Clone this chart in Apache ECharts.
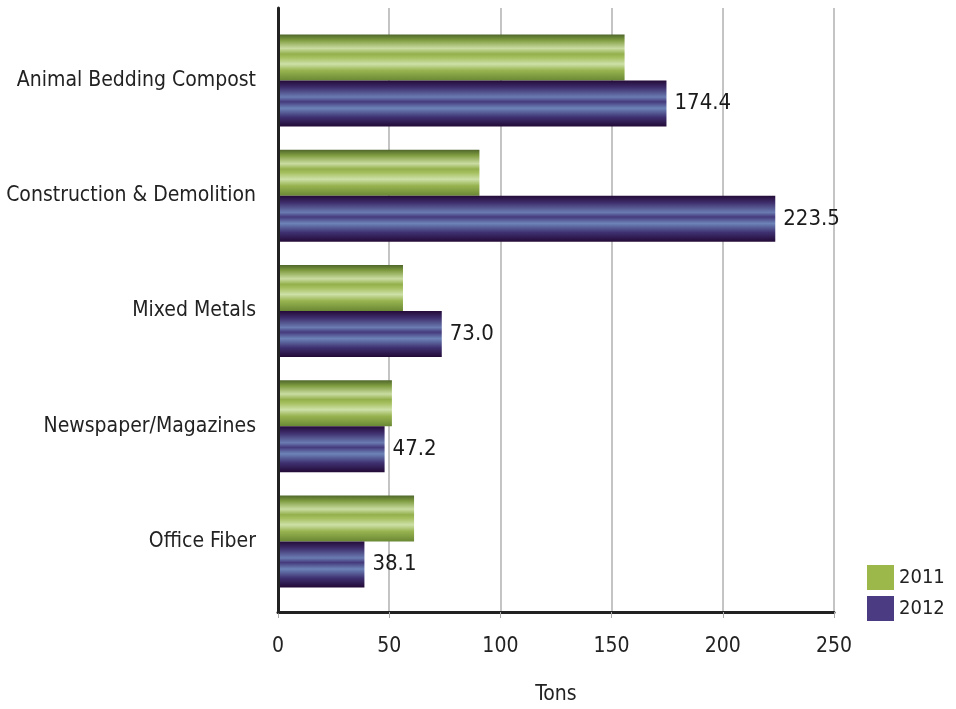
<!DOCTYPE html>
<html>
<head>
<meta charset="utf-8">
<script src="https://cdn.jsdelivr.net/npm/echarts@6/dist/echarts.min.js"></script>
<style>
  html, body { margin: 0; padding: 0; background: #fff; }
  #chart { width: 956px; height: 709px; }
</style>
</head>
<body>
<div id="chart"></div>
<script>
var categories = ['Animal Bedding Compost', 'Construction & Demolition', 'Mixed Metals', 'Newspaper/Magazines', 'Office Fiber'];
var tons2011 = [155.5, 90.0, 55.5, 50.5, 60.5];
var tons2012 = [174.4, 223.5, 73.0, 47.2, 38.1];
var xTicks = [0, 50, 100, 150, 200, 250];

var font = '"DejaVu Sans Condensed", "Liberation Sans Narrow", sans-serif';

// stripy look of the bars
var greenFill = new echarts.graphic.LinearGradient(0, 0, 0, 1, [
  { offset: 0, color: '#4f662b' },
  { offset: 0.12, color: '#7f9c40' },
  { offset: 0.3, color: '#cadca2' },
  { offset: 0.42, color: '#93b04c' },
  { offset: 0.5, color: '#a6c060' },
  { offset: 0.64, color: '#cde0a8' },
  { offset: 0.78, color: '#98b450' },
  { offset: 1, color: '#6a8834' }
]);
var purpleFill = new echarts.graphic.LinearGradient(0, 0, 0, 1, [
  { offset: 0, color: '#240b38' },
  { offset: 0.15, color: '#3e2e6c' },
  { offset: 0.36, color: '#6a7cb2' },
  { offset: 0.46, color: '#453a7c' },
  { offset: 0.6, color: '#6d84b8' },
  { offset: 0.8, color: '#3e3070' },
  { offset: 1, color: '#230a36' }
]);

var chart = echarts.init(document.getElementById('chart'));
chart.setOption({
  animation: false,
  textStyle: { fontFamily: font },
  legend: {
    orient: 'vertical',
    left: 862,
    top: 560,
    itemWidth: 27,
    itemHeight: 25,
    itemGap: 6,
    icon: 'rect',
    textStyle: { fontSize: 20, color: '#222', fontFamily: font },
    data: [
      { name: '2011', itemStyle: { color: '#9cb84a' } },
      { name: '2012', itemStyle: { color: '#4b3b82' } }
    ]
  },
  grid: [
    { left: 278, right: 122, top: 8, bottom: 97, outerBoundsMode: 'none', containLabel: false },
    { left: 280, right: 122, top: 23, bottom: 110, outerBoundsMode: 'none', containLabel: false }
  ],
  xAxis: [
    {
      gridIndex: 0, type: 'value', min: 0, max: 250, interval: 50,
      name: 'Tons', nameLocation: 'middle', nameGap: 72,
      nameTextStyle: { fontSize: 21, color: '#222', fontFamily: font },
      axisLine: { show: true, lineStyle: { color: '#222', width: 3 } },
      axisTick: { show: true, length: 6, lineStyle: { color: '#aaa' } },
      axisLabel: {
        fontSize: 21, color: '#222', margin: 24, fontFamily: font,
        formatter: function (v) { return xTicks.indexOf(v) >= 0 ? String(v) : ''; }
      },
      splitLine: { show: true, lineStyle: { color: '#b0b0b0', width: 1.5 } }
    },
    { gridIndex: 1, type: 'value', min: 0, max: 250, show: false, splitLine: { show: false } }
  ],
  yAxis: [
    {
      gridIndex: 0, type: 'category', data: categories, inverse: true, z: 5,
      axisLine: { show: true, lineStyle: { color: '#222', width: 3 } },
      axisTick: { show: false }, axisLabel: { show: false }
    },
    {
      gridIndex: 1, type: 'category', data: categories, inverse: true,
      axisLine: { show: false }, axisTick: { show: false },
      axisLabel: { fontSize: 21, color: '#222', margin: 24, fontFamily: font }
    }
  ],
  series: [
    {
      name: '2011', type: 'bar', xAxisIndex: 1, yAxisIndex: 1,
      data: tons2011, barWidth: 46, barGap: '0%',
      itemStyle: { color: greenFill }
    },
    {
      name: '2012', type: 'bar', xAxisIndex: 1, yAxisIndex: 1,
      data: tons2012, barWidth: 46, barGap: '0%',
      itemStyle: { color: purpleFill },
      label: {
        show: true, position: 'right', distance: 8,
        fontSize: 22, color: '#1a1a1a', fontFamily: font,
        formatter: function (p) { return p.value.toFixed(1); }
      }
    }
  ]
});
</script>
</body>
</html>
